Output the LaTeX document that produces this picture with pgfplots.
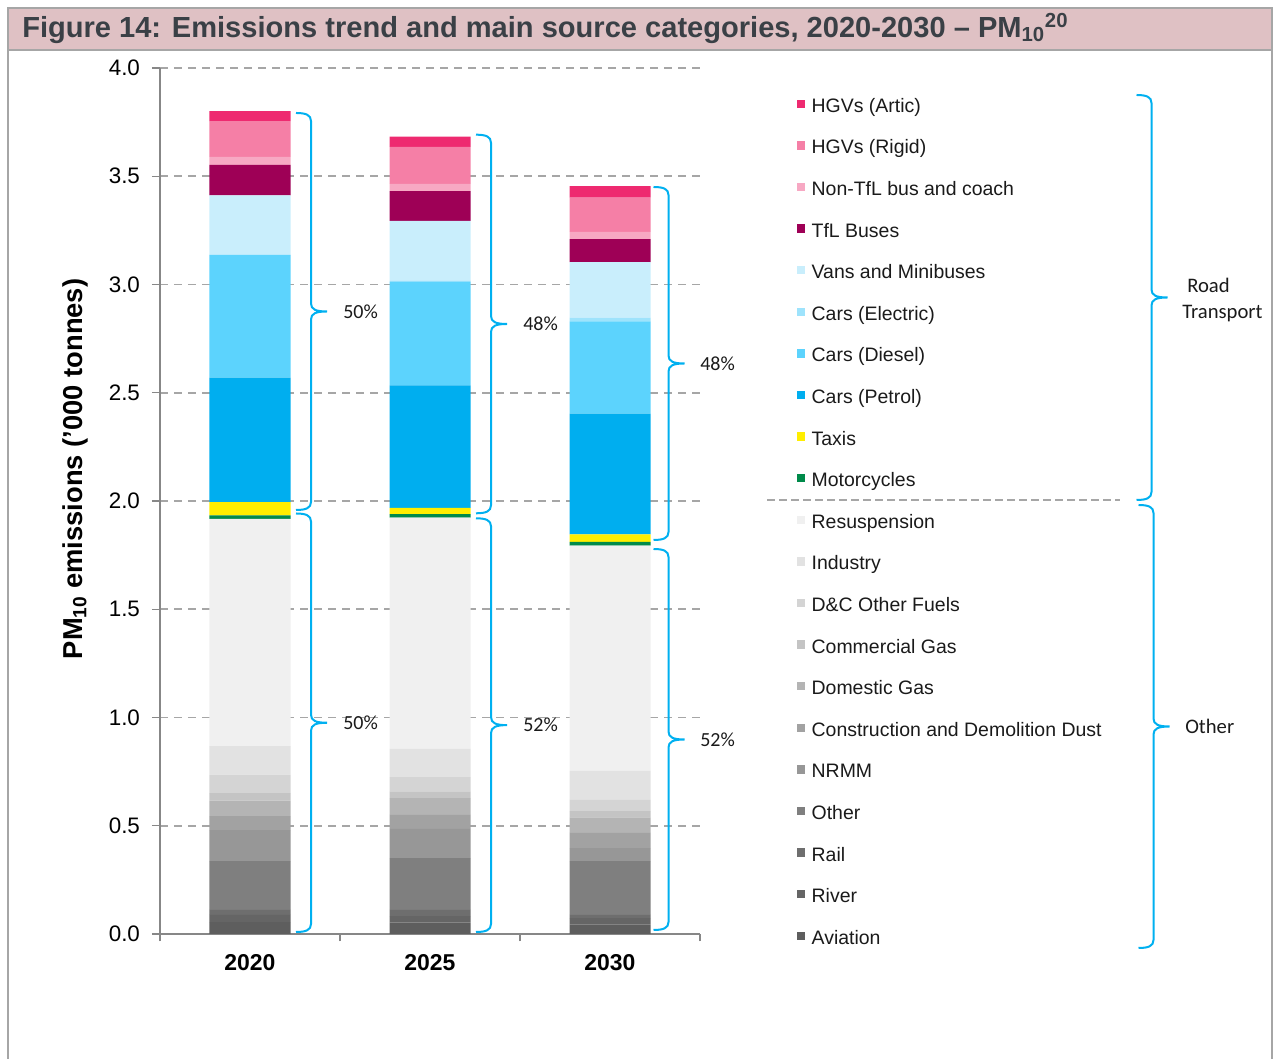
\documentclass[border=0pt]{standalone}
\usepackage{pgfplots}
\pgfplotsset{compat=1.18}
\usepackage{pgfplotstable}
\usepackage{fontspec}
\setmainfont{Liberation Sans}
\newfontfamily\calibri{Carlito}

% source category colours
\definecolor{cAviation}{HTML}{5E5E5E}
\definecolor{cRiver}{HTML}{656565}
\definecolor{cRail}{HTML}{6E6E6E}
\definecolor{cOther}{HTML}{7F7F7F}
\definecolor{cNRMM}{HTML}{979797}
\definecolor{cConstr}{HTML}{A2A2A2}
\definecolor{cDomGas}{HTML}{B4B4B4}
\definecolor{cComGas}{HTML}{C4C4C4}
\definecolor{cDCOther}{HTML}{D4D4D4}
\definecolor{cIndustry}{HTML}{E2E2E2}
\definecolor{cResusp}{HTML}{F0F0F0}
\definecolor{cMoto}{HTML}{008A4A}
\definecolor{cTaxis}{HTML}{FFEE00}
\definecolor{cPetrol}{HTML}{00AEEF}
\definecolor{cDiesel}{HTML}{5CD3FD}
\definecolor{cElectric}{HTML}{9EE3FC}
\definecolor{cVans}{HTML}{C9EEFC}
\definecolor{cTfLBus}{HTML}{9E0056}
\definecolor{cNonTfL}{HTML}{F7A8C3}
\definecolor{cRigid}{HTML}{F57FA6}
\definecolor{cArtic}{HTML}{EE2A70}
% frame and annotation colours
\definecolor{axisgrey}{HTML}{878787}
\definecolor{gridgrey}{HTML}{A6A6A6}
\definecolor{framegrey}{HTML}{A6A6A6}
\definecolor{bandpink}{HTML}{DFC1C4}
\definecolor{titlegrey}{HTML}{3A4046}
\definecolor{braceblue}{HTML}{00B0F0}
\definecolor{legtext}{HTML}{1A1A1A}

% PM10 emissions ('000 tonnes) by source, 2020 / 2025 / 2030
\pgfplotstableread{
x Aviation River Rail Other NRMM Constr DomGas ComGas DCOther Industry Resusp Moto Taxis Petrol Diesel Electric Vans TfLBus NonTfL Rigid Artic
0 0.055 0.033 0.023 0.226 0.143 0.064 0.072 0.035 0.085 0.132 1.049 0.017 0.061 0.575 0.566 0.003 0.273 0.141 0.037 0.164 0.047
1 0.052 0.031 0.028 0.240 0.135 0.064 0.078 0.031 0.065 0.131 1.068 0.016 0.029 0.566 0.478 0.005 0.277 0.137 0.034 0.171 0.047
2 0.045 0.028 0.015 0.249 0.060 0.070 0.072 0.029 0.051 0.134 1.041 0.017 0.035 0.557 0.427 0.017 0.256 0.107 0.033 0.158 0.053
}\pmdata

% right-hand curly brace: spine x, top y, bottom y (pixel units, y downwards)
\newcommand{\sbrace}[3]{%
  \pgfmathsetmacro\bm{(#2+#3)/2}%
  \draw[braceblue, line width=1.5pt]
    ({#1-15},#2) .. controls ({#1-5},#2) and (#1,{#2+2}) .. (#1,{#2+8})
    -- (#1,{\bm-8}) .. controls (#1,{\bm-2}) and ({#1+5},\bm) .. ({#1+16},\bm)
    .. controls ({#1+5},\bm) and (#1,{\bm+2}) .. (#1,{\bm+8})
    -- (#1,{#3-8}) .. controls (#1,{#3-2}) and ({#1-5},#3) .. ({#1-15},#3);
}

\begin{document}
\begin{tikzpicture}
% page frame and title band
\begin{scope}[shift={(-120pt,700.5pt)},x=0.75pt,y=-0.75pt]
  \useasboundingbox (0,0) rectangle (1274,1059);
  \fill[bandpink] (8,8) rectangle (1272,50);
  \draw[framegrey, line width=1.5pt] (8,1059) -- (8,8) -- (1272,8) -- (1272,1059);
  \draw[framegrey, line width=1.5pt] (8,50) -- (1272,50);
  \node[anchor=base west, inner sep=0pt, text=titlegrey,
        font=\bfseries\fontsize{21.8}{26}\selectfont] at (22,37.3)
    {Figure 14: Emissions trend and main source categories, 2020-2030 – PM\textsubscript{10}\textsuperscript{20}};
\end{scope}

\begin{axis}[
  at={(0pt,0pt)}, anchor=south west,
  scale only axis, width=405pt, height=649.5pt,
  xmin=-0.5, xmax=2.5, ymin=0, ymax=4,
  ybar stacked, bar width=60.75pt,
  axis lines*=left,
  axis line style={draw=axisgrey, line width=1.1pt, -},
  xtick={0,1,2}, xticklabels={2020,2025,2030},
  minor xtick={-0.5,0.5,1.5,2.5},
  ytick={0,0.5,1,1.5,2,2.5,3,3.5,4},
  xtick pos=bottom, ytick pos=left,
  tick align=outside,
  major tick length=6pt, minor tick length=5.5pt,
  major x tick style={draw=none},
  minor x tick style={draw=axisgrey, line width=1.1pt},
  major y tick style={draw=axisgrey, line width=1.1pt},
  ymajorgrids,
  major grid style={draw=gridgrey, line width=1.2pt, dash pattern=on 6pt off 4.5pt},
  /pgf/number format/assume math mode=true,
  yticklabel style={/pgf/number format/fixed, /pgf/number format/fixed zerofill,
    /pgf/number format/precision=1, font=\fontsize{16.8}{19}\selectfont, xshift=-5.5pt},
  xticklabel style={font=\bfseries\fontsize{17.2}{20}\selectfont, yshift=-5.5pt},
  ylabel={PM\textsubscript{10} emissions ('000 tonnes)},
  every axis y label/.style={at={(axis description cs:-0.157,0.537)}, rotate=90,
    anchor=center, font=\bfseries\fontsize{20.5}{24}\selectfont},
  reverse legend,
  legend cell align=left,
  legend image code/.code={\fill[#1] (0pt,-0.8pt) rectangle (6.3pt,5.5pt);},
  legend style={at={(axis description cs:1.1796,0.9658)}, anchor=north west,
    draw=none, fill=none, inner sep=0pt, outer sep=0pt,
    row sep=17.2pt, column sep=4.7pt, text=legtext,
    font=\fontsize{14.6}{18}\selectfont,
    nodes={inner sep=0pt, outer sep=0pt, text height=11pt, text depth=3pt}},
]
\addplot[fill=cAviation, draw=none] table[x=x,y=Aviation]{\pmdata}; \addlegendentry{Aviation}
\addplot[fill=cRiver, draw=none] table[x=x,y=River]{\pmdata}; \addlegendentry{River}
\addplot[fill=cRail, draw=none] table[x=x,y=Rail]{\pmdata}; \addlegendentry{Rail}
\addplot[fill=cOther, draw=none] table[x=x,y=Other]{\pmdata}; \addlegendentry{Other}
\addplot[fill=cNRMM, draw=none] table[x=x,y=NRMM]{\pmdata}; \addlegendentry{NRMM}
\addplot[fill=cConstr, draw=none] table[x=x,y=Constr]{\pmdata}; \addlegendentry{Construction and Demolition Dust}
\addplot[fill=cDomGas, draw=none] table[x=x,y=DomGas]{\pmdata}; \addlegendentry{Domestic Gas}
\addplot[fill=cComGas, draw=none] table[x=x,y=ComGas]{\pmdata}; \addlegendentry{Commercial Gas}
\addplot[fill=cDCOther, draw=none] table[x=x,y=DCOther]{\pmdata}; \addlegendentry{D\&C Other Fuels}
\addplot[fill=cIndustry, draw=none] table[x=x,y=Industry]{\pmdata}; \addlegendentry{Industry}
\addplot[fill=cResusp, draw=none] table[x=x,y=Resusp]{\pmdata}; \addlegendentry{Resuspension}
\addplot[fill=cMoto, draw=none] table[x=x,y=Moto]{\pmdata}; \addlegendentry{Motorcycles}
\addplot[fill=cTaxis, draw=none] table[x=x,y=Taxis]{\pmdata}; \addlegendentry{Taxis}
\addplot[fill=cPetrol, draw=none] table[x=x,y=Petrol]{\pmdata}; \addlegendentry{Cars (Petrol)}
\addplot[fill=cDiesel, draw=none] table[x=x,y=Diesel]{\pmdata}; \addlegendentry{Cars (Diesel)}
\addplot[fill=cElectric, draw=none] table[x=x,y=Electric]{\pmdata}; \addlegendentry{Cars (Electric)}
\addplot[fill=cVans, draw=none] table[x=x,y=Vans]{\pmdata}; \addlegendentry{Vans and Minibuses}
\addplot[fill=cTfLBus, draw=none] table[x=x,y=TfLBus]{\pmdata}; \addlegendentry{TfL Buses}
\addplot[fill=cNonTfL, draw=none] table[x=x,y=NonTfL]{\pmdata}; \addlegendentry{Non-TfL bus and coach}
\addplot[fill=cRigid, draw=none] table[x=x,y=Rigid]{\pmdata}; \addlegendentry{HGVs (Rigid)}
\addplot[fill=cArtic, draw=none] table[x=x,y=Artic]{\pmdata}; \addlegendentry{HGVs (Artic)}
\end{axis}

% group braces, shares and separator
\begin{scope}[shift={(-120pt,700.5pt)},x=0.75pt,y=-0.75pt]
  \sbrace{311}{113}{510}
  \sbrace{311}{513.5}{932}
  \sbrace{491}{134.7}{513.3}
  \sbrace{491}{518.3}{932}
  \sbrace{668.5}{187}{540}
  \sbrace{668.5}{549}{930}
  \sbrace{1151.5}{95}{500}
  \sbrace{1153.5}{505}{948}
  \begin{scope}[every node/.style={anchor=west, inner sep=0pt, font=\calibri\fontsize{15}{18}\selectfont, text=legtext}]
    \node at (343,311.5) {50\%};
    \node at (343,722.8) {50\%};
    \node at (523,324) {48\%};
    \node at (523,725.2) {52\%};
    \node at (700,363.5) {48\%};
    \node at (700,739.5) {52\%};
  \end{scope}
  \begin{scope}[every node/.style={anchor=base west, inner sep=0pt, font=\calibri\fontsize{15.5}{18}\selectfont, text=legtext}]
    \node at (1187,292.7) {Road};
    \node at (1182,318.7) {Transport};
    \node at (1185,733.7) {Other};
  \end{scope}
  \draw[gridgrey, line width=1.5pt, dash pattern=on 6pt off 3pt] (767,500) -- (1120,500);
\end{scope}
\end{tikzpicture}
\end{document}
